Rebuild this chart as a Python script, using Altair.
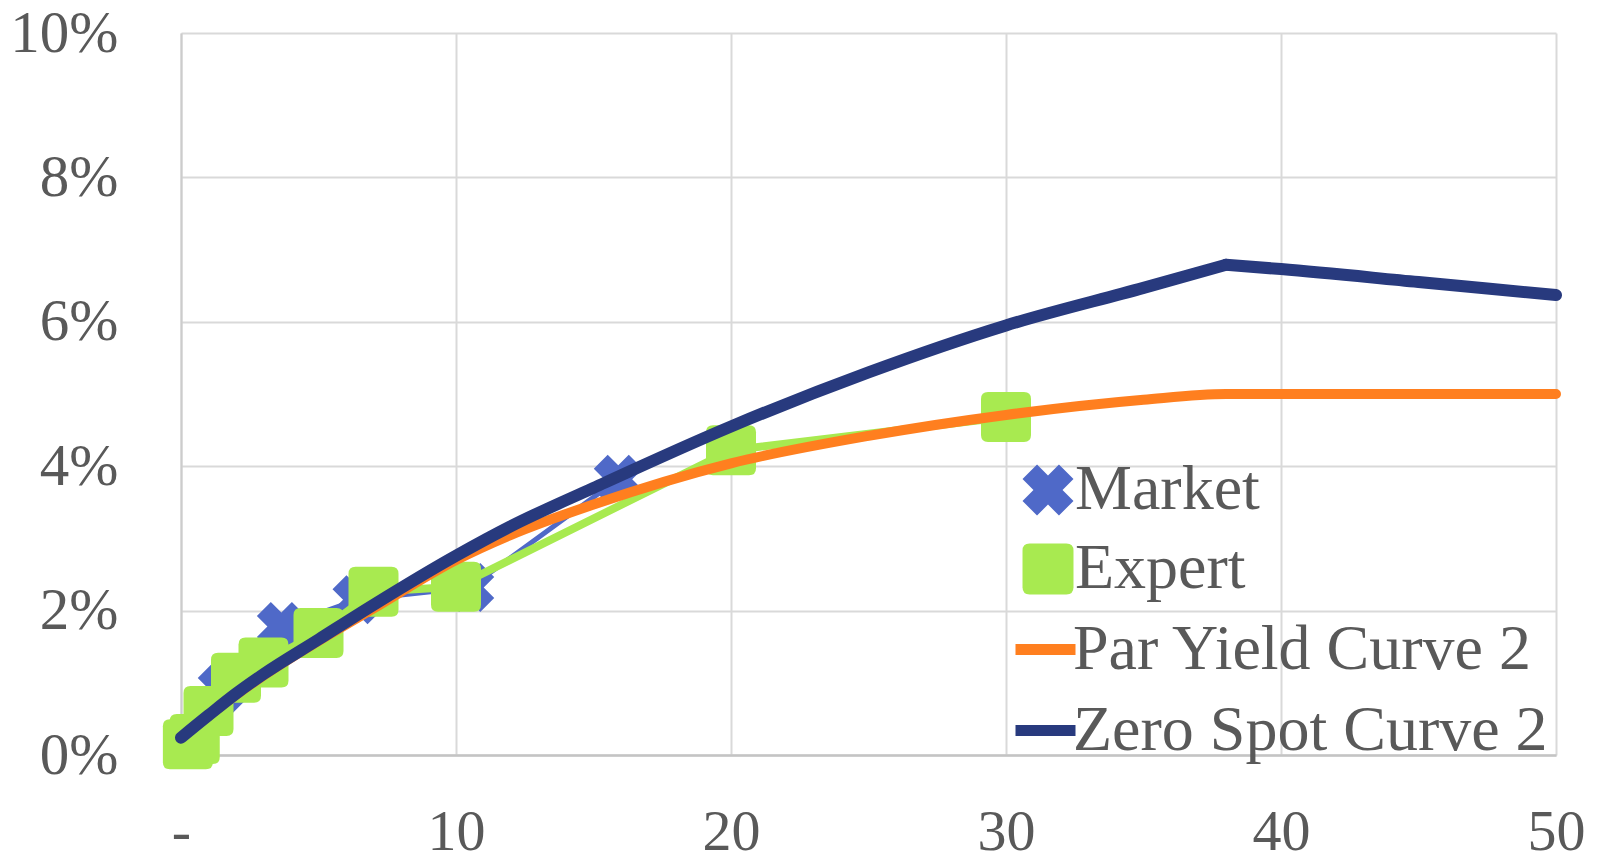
import altair as alt
import pandas as pd

# Observed points
market_years = [0.25, 1.5, 3.65, 6.4, 10.5, 15.9]
market_rates = [0.18, 0.92, 1.78, 2.15, 2.32, 3.82]
expert_years = [0.25, 0.5, 1, 2, 3, 5, 7, 10, 20, 30]
expert_rates = [0.15, 0.22, 0.61, 1.07, 1.28, 1.69, 2.26, 2.33, 4.22, 4.68]

# Fitted curves (rates in %)
curve_years = [0, 1, 2, 3, 5, 7, 10, 12, 15, 20, 25, 30, 35, 38, 40, 45, 50]
par_rates = [0.24, 0.54, 0.83, 1.10, 1.58, 2.03, 2.70, 3.05, 3.47, 4.04, 4.42, 4.71, 4.92, 5.00, 5.00, 5.00, 5.00]
zero_rates = [0.24, 0.55, 0.85, 1.12, 1.60, 2.08, 2.76, 3.17, 3.70, 4.55, 5.30, 5.95, 6.47, 6.79, 6.73, 6.55, 6.37]

x_ticks = [0, 10, 20, 30, 40, 50]
y_ticks = [0, 2, 4, 6, 8, 10]

BLUE = "#4F69C8"
GREEN = "#A8EA50"
ORANGE = "#FF7F1F"
NAVY = "#283A7E"
TEXT = "#595959"
FONT = "Liberation Serif"

# Symbol outlines in [-1, 1] units
X_PATH = ("M0.43,-1 L1,-0.43 L0.57,0 L1,0.43 L0.43,1 L0,0.57 L-0.43,1 "
          "L-1,0.43 L-0.57,0 L-1,-0.43 L-0.43,-1 L0,-0.57 Z")
SQ_PATH = ("M-0.72,-1 L0.72,-1 Q1,-1 1,-0.72 L1,0.72 Q1,1 0.72,1 L-0.72,1 "
           "Q-1,1 -1,0.72 L-1,-0.72 Q-1,-1 -0.72,-1 Z")

market = pd.DataFrame({"year": market_years, "rate": market_rates, "series": "Market"})
expert = pd.DataFrame({"year": expert_years, "rate": expert_rates, "series": "Expert"})
par = pd.DataFrame({"year": curve_years, "rate": par_rates, "series": "Par Yield Curve 2"})

# The zero curve has a kink at its peak: smooth up to it, straight after it
peak = zero_rates.index(max(zero_rates))
zero = pd.concat([
    pd.DataFrame({"year": curve_years[:peak + 1], "rate": zero_rates[:peak + 1], "part": "rise"}),
    pd.DataFrame({"year": curve_years[peak:], "rate": zero_rates[peak:], "part": "tail"}),
])
zero["series"] = "Zero Spot Curve 2"

obs_domain = ["Market", "Expert"]
curve_domain = ["Par Yield Curve 2", "Zero Spot Curve 2"]

x_enc = alt.X(
    "year:Q",
    scale=alt.Scale(domain=[0, 50], nice=False, zero=False),
    axis=alt.Axis(
        values=x_ticks, title=None, labelExpr="datum.value == 0 ? '-' : datum.label",
        labelFlush=False, labelPadding=48, tickSize=0, labelFontSize=58,
        grid=True, gridColor="#d9d9d9", gridWidth=2,
        domainColor="#c4c4c4", domainWidth=2.5,
    ),
)
y_enc = alt.Y(
    "rate:Q",
    scale=alt.Scale(domain=[0, 10], nice=False),
    axis=alt.Axis(
        values=y_ticks, title=None, labelExpr="datum.value + '%'",
        labelPadding=63, tickSize=0, labelFontSize=59,
        grid=True, gridColor="#d9d9d9", gridWidth=2,
        domainColor="#cccccc", domainWidth=2,
    ),
)

# Connecting lines of the observed series (no legend of their own)
obs_color = alt.Color(
    "series:N",
    scale=alt.Scale(domain=list(reversed(obs_domain)), range=[GREEN, BLUE]),
    legend=None,
)

pts_legend = alt.Legend(
    orient="none", legendX=835, legendY=425, title=None,
    symbolSize=2600, symbolStrokeWidth=0, labelOffset={"expr": "-5"},
    labelFontSize=64, labelFont=FONT, labelColor=TEXT, labelLimit=900,
    rowPadding=15,
)
pts_fill = alt.Fill("series:N", scale=alt.Scale(domain=obs_domain, range=[BLUE, GREEN]), legend=pts_legend)
pts_shape = alt.Shape("series:N", scale=alt.Scale(domain=obs_domain, range=[X_PATH, SQ_PATH]), legend=pts_legend)

market_line = alt.Chart(market).mark_line(strokeWidth=5, strokeJoin="round").encode(x=x_enc, y=y_enc, color=obs_color)
market_pts = alt.Chart(market).mark_point(filled=True, size=2400, opacity=1, strokeWidth=0).encode(
    x=x_enc, y=y_enc, fill=pts_fill, shape=pts_shape)
expert_line = alt.Chart(expert).mark_line(strokeWidth=8, strokeJoin="round").encode(x=x_enc, y=y_enc, color=obs_color)
expert_pts = alt.Chart(expert).mark_point(filled=True, size=2500, opacity=1, strokeWidth=0).encode(
    x=x_enc, y=y_enc, fill=pts_fill, shape=pts_shape)

curve_stroke = alt.Stroke(
    "series:N",
    scale=alt.Scale(domain=curve_domain, range=[ORANGE, NAVY]),
    legend=alt.Legend(
        orient="none", legendX=829, legendY=581, title=None,
        symbolType="stroke", symbolSize=3600, symbolStrokeWidth=11, labelOffset={"expr": "-8"},
        labelFontSize=64, labelFont=FONT, labelColor=TEXT, labelLimit=900,
        rowPadding=13,
    ),
)
par_line = alt.Chart(par).mark_line(
    strokeWidth=10, strokeCap="round", strokeJoin="round", interpolate="monotone"
).encode(x=x_enc, y=y_enc, stroke=curve_stroke)
zero_line = alt.Chart(zero).mark_line(
    strokeWidth=12, strokeCap="round", strokeJoin="round", interpolate="monotone"
).encode(x=x_enc, y=y_enc, stroke=curve_stroke, detail="part:N")

chart = (
    alt.layer(market_line, market_pts, expert_line, expert_pts, par_line, zero_line)
    .properties(
        width=1375, height=722,
        autosize=alt.AutoSizeParams(type="none"),
        padding={"left": 181, "top": 33, "right": 49, "bottom": 103},
        background="white",
    )
    .configure_view(strokeWidth=0)
    .configure_axis(labelFont=FONT, labelColor=TEXT)
    .configure_legend(labelFont=FONT, labelColor=TEXT)
)

chart.save("out.html", embed_options={"renderer": "svg", "actions": False})
